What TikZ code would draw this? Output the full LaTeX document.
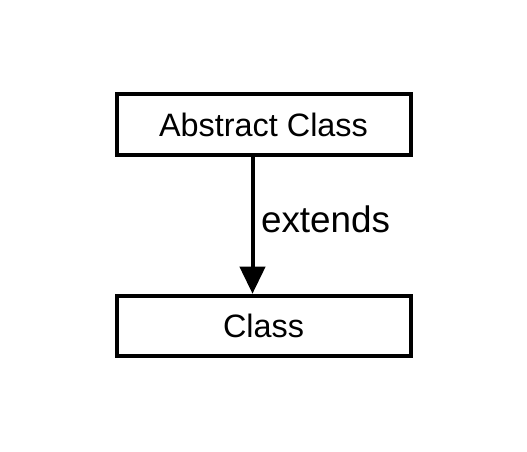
\documentclass[tikz,border=0pt]{standalone}
\usepackage{fontspec}
\setmainfont{Liberation Sans}
\usetikzlibrary{arrows.meta}
\tikzset{
  classbox/.style={draw=black, line width=4bp, rectangle, minimum width=294bp,
    inner sep=0pt, font=\fontsize{32.5}{38}\selectfont},
  extarrow/.style={line width=4bp, -{Triangle[length=27bp,width=25bp]}},
  extlabel/.style={font=\fontsize{37}{44}\selectfont, inner sep=0pt, anchor=base west}
}
\begin{document}
\begin{tikzpicture}[x=1bp,y=-1bp]
\useasboundingbox[fill=white] (0,0) rectangle (527,452);
\node[classbox, minimum height=61bp] (abs) at (263.5,125) {Abstract Class};
\node[classbox, minimum height=60bp] (cls) at (263.5,325.75) {Class};
\draw[extarrow] ([xshift=-11bp]abs.south) -- node[extlabel, pos=0.55, xshift=6.5bp] (lbl) {extends} ([xshift=-11bp]cls.north);
\end{tikzpicture}
\end{document}
